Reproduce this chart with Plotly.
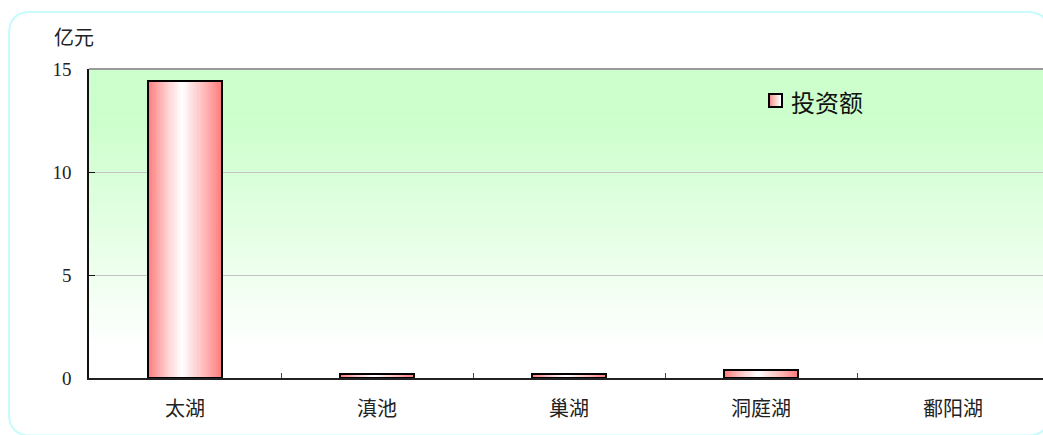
import plotly.graph_objects as go

# 各湖泊治理投资额（亿元）
lakes = ["太湖", "滇池", "巢湖", "洞庭湖", "鄱阳湖"]
investment = [14.43, 0.18, 0.18, 0.37, 0.0]
y_ticks = [0, 5, 10, 15]
series_name = "投资额"
unit_label = "亿元"

W, H = 1043, 435
ML, MT, MB, MR = 89, 69, 57, 0
PW, PH = W - ML - MR, H - MT - MB
CAT_PX = 192  # pixel width of one category slot


def px_x(px):
    return (px - ML) / PW


def px_y(py):
    return (H - MB - py) / PH


def mix(c1, c2, t):
    return "rgb(%d,%d,%d)" % tuple(round(a + (b - a) * t) for a, b in zip(c1, c2))


RED = (255, 122, 122)
WHITE = (255, 255, 255)
GREEN = (204, 255, 204)


def bar_shade(t):
    # horizontal red-white-red gradient across a bar, brightest a little left of centre
    c = 0.45
    d = (c - t) / c if t < c else (t - c) / (1 - c)
    return mix(WHITE, RED, min(1.0, d) ** 1.1)


fig = go.Figure()

BAR_W = 0.39
N = 36
for i in range(N):
    t = (i + 0.5) / N
    fig.add_trace(go.Bar(
        x=lakes, y=investment,
        width=BAR_W / N * 1.25, offset=-BAR_W / 2 + i * BAR_W / N,
        marker=dict(color=bar_shade(t), line=dict(width=0)),
        showlegend=False, hoverinfo="skip",
    ))

# bar outlines (no outline for empty bars)
fig.add_trace(go.Bar(
    x=lakes, y=investment, width=BAR_W, offset=-BAR_W / 2,
    marker=dict(color="rgba(0,0,0,0)",
                line=dict(color="black", width=[2 if v > 0 else 0 for v in investment])),
    name=series_name, showlegend=False,
))

shapes = []
# plot background: green at top fading to white
NB = 80
for i in range(NB):
    d = (i + 0.5) / NB  # fraction from top
    s = min(1.0, max(0.0, (d - 0.17) / 0.73))
    shapes.append(dict(
        type="rect", xref="x domain", yref="y domain",
        x0=0, x1=1, y0=1 - (i + 1) / NB - 0.002, y1=1 - i / NB,
        fillcolor=mix(GREEN, WHITE, s), line=dict(width=0), layer="below",
    ))

# top border of the plot area
shapes.append(dict(type="line", xref="x domain", yref="y domain",
                   x0=0, x1=1, y0=1, y1=1,
                   line=dict(color="#9a9a9a", width=2)))

# legend swatch with the same gradient
LX0, LX1, LY0, LY1 = 769, 782, 94, 107
NS = 12
for i in range(NS):
    t = (i + 0.5) / NS
    shapes.append(dict(
        type="rect", xref="paper", yref="paper",
        x0=px_x(LX0 + (LX1 - LX0) * i / NS), x1=px_x(LX0 + (LX1 - LX0) * (i + 1.2) / NS),
        y0=px_y(LY1), y1=px_y(LY0),
        fillcolor=mix(RED, WHITE, min(1.0, t * 1.15)), line=dict(width=0),
    ))
shapes.append(dict(type="rect", xref="paper", yref="paper",
                   x0=px_x(LX0), x1=px_x(LX1), y0=px_y(LY1), y1=px_y(LY0),
                   line=dict(color="black", width=2)))

# rounded outer frame
bx0, by0, bx1, by1, r = 9, 12, 1049, 435.5, 22
path = (
    f"M {px_x(bx0 + r)},{px_y(by0)} L {px_x(bx1 - r)},{px_y(by0)} "
    f"Q {px_x(bx1)},{px_y(by0)} {px_x(bx1)},{px_y(by0 + r)} "
    f"L {px_x(bx1)},{px_y(by1 - r)} "
    f"Q {px_x(bx1)},{px_y(by1)} {px_x(bx1 - r)},{px_y(by1)} "
    f"L {px_x(bx0 + r)},{px_y(by1)} "
    f"Q {px_x(bx0)},{px_y(by1)} {px_x(bx0)},{px_y(by1 - r)} "
    f"L {px_x(bx0)},{px_y(by0 + r)} "
    f"Q {px_x(bx0)},{px_y(by0)} {px_x(bx0 + r)},{px_y(by0)} Z"
)
shapes.append(dict(type="path", xref="paper", yref="paper", path=path,
                   line=dict(color="#c8fbfb", width=2), fillcolor="rgba(0,0,0,0)"))

FONT = "Liberation Serif, Noto Sans CJK SC, serif"
CJK = "Noto Sans CJK SC, sans-serif"

annotations = [
    dict(text=unit_label, xref="paper", yref="paper", x=px_x(52), y=px_y(37),
         xanchor="left", yanchor="middle", showarrow=False,
         font=dict(family=CJK, size=20, color="#222")),
    dict(text=series_name, xref="paper", yref="paper", x=px_x(789), y=px_y(101),
         xanchor="left", yanchor="middle", showarrow=False,
         font=dict(family=CJK, size=24, color="#111")),
]

fig.update_layout(
    width=W, height=H,
    margin=dict(l=ML, r=MR, t=MT, b=MB),
    paper_bgcolor="white", plot_bgcolor="white",
    barmode="overlay", bargap=0,
    showlegend=False,
    shapes=shapes, annotations=annotations,
    font=dict(family=FONT, color="#222"),
)

fig.update_xaxes(
    type="category", range=[-0.5, -0.5 + PW / CAT_PX],
    showline=True, linecolor="#222", linewidth=1.5,
    ticks="inside", tickson="boundaries", ticklen=5, tickcolor="#444", tickwidth=1,
    showgrid=False, tickfont=dict(family=CJK, size=20, color="#222"),
    ticklabelstandoff=12,
)
fig.update_yaxes(
    range=[0, 15], tickvals=y_ticks, ticktext=[str(v) for v in y_ticks],
    showline=True, linecolor="#111", linewidth=1.5,
    ticks="inside", ticklen=6, tickcolor="#111",
    showgrid=True, gridcolor="#c4c4c4", gridwidth=1, zeroline=False,
    tickfont=dict(family=FONT, size=19, color="#222"),
    ticklabelstandoff=12,
)

fig.write_html("out.html")
